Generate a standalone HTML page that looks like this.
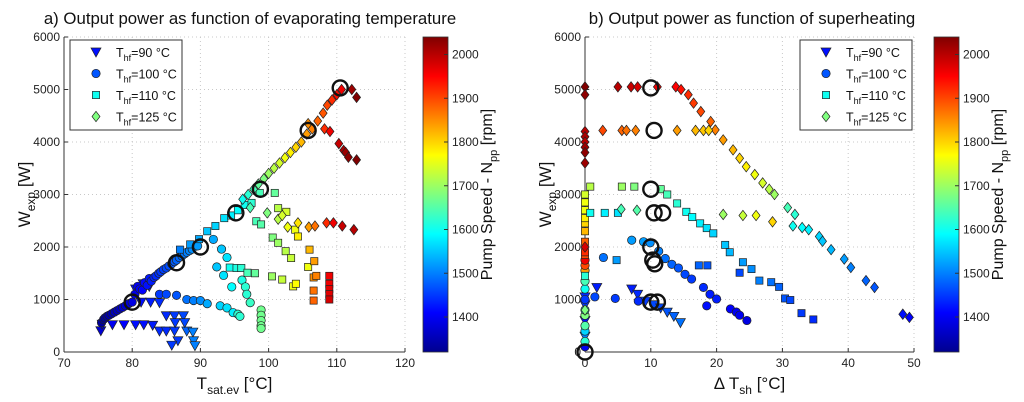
<!DOCTYPE html>
<html><head><meta charset="utf-8"><style>
html,body{margin:0;padding:0;background:#fff;}
svg{display:block;font-family:"Liberation Sans",Arial,sans-serif;}
</style></head><body>
<svg id="fig" width="1024" height="402" viewBox="0 0 1024 402" xmlns="http://www.w3.org/2000/svg">
<defs>
<linearGradient id="jet" x1="0" y1="1" x2="0" y2="0">
<stop offset="0" stop-color="#00008f"/><stop offset="0.125" stop-color="#0000ff"/><stop offset="0.375" stop-color="#00ffff"/><stop offset="0.625" stop-color="#ffff00"/><stop offset="0.875" stop-color="#ff0000"/><stop offset="1" stop-color="#800000"/>
</linearGradient>
</defs>
<g id="left"></g>
<g id="right"></g>
</svg>
<script>
// ---- data: [x, W, rpm] ----
const leftTri = [[75.4,405,1380],[75.6,530,1390],[77.1,520,1400],[78.8,520,1410],[80.5,520,1420],[81.7,520,1420],[83.0,510,1430],[84.0,400,1440],[85.0,400,1440],[86.2,400,1450],[88.0,400,1480],[88.9,380,1500],[81.3,950,1420],[82.7,950,1430],[84.0,940,1440],[85.0,690,1440],[86.2,690,1450],[87.5,690,1460],[86.3,560,1450],[87.7,560,1460],[86.7,215,1450],[89.0,215,1500],[89.2,120,1500],[85.8,130,1450],[80.5,1200,1420],[81.6,1300,1430],[82.5,1250,1430]];
const leftCirc = [[75.5,560,1340],[75.8,620,1342],[76.0,650,1345],[76.3,680,1348],[76.6,700,1350],[77.0,730,1355],[77.4,760,1360],[77.8,790,1365],[78.2,820,1370],[78.6,850,1375],[79.0,880,1380],[79.5,920,1385],[80.0,950,1390],[80.4,1100,1395],[80.8,1250,1400],[81.1,1200,1405],[81.5,1180,1410],[81.8,1320,1415],[82.2,1270,1420],[82.5,1400,1425],[82.8,1350,1430],[83.2,1420,1435],[83.5,1450,1440],[83.9,1500,1445],[84.2,1530,1450],[84.6,1570,1455],[85.0,1600,1460],[85.4,1640,1465],[85.8,1680,1470],[86.2,1720,1475],[86.5,1750,1480],[86.9,1800,1485],[87.3,1830,1490],[87.7,1870,1495],[88.0,1900,1500],[88.4,1930,1505],[88.8,1960,1510],[89.6,2020,1520],[84.0,1100,1450],[85.0,1100,1460],[86.5,1080,1470],[88.0,1000,1490],[89.0,980,1500],[90.0,980,1510],[91.0,920,1530],[92.9,880,1560],[93.9,840,1570],[94.8,750,1580],[91.9,2145,1530],[93.1,1960,1550],[93.9,1800,1570],[92.4,1620,1550],[93.4,1460,1570],[94.6,1240,1590],[96.1,1370,1610],[96.6,1240,1620],[96.8,1100,1620],[97.3,940,1630],[95.5,720,1620],[95.8,680,1620],[98.9,800,1670],[98.9,700,1670],[98.9,600,1670],[98.9,500,1670],[98.9,450,1670]];
const leftSq = [[87.0,1950,1500],[88.5,2050,1520],[89.8,2150,1530],[91.0,2300,1550],[92.2,2400,1560],[93.5,2550,1570],[94.5,2600,1580],[95.5,2700,1590],[96.5,2800,1600],[97.5,2840,1620],[98.7,3030,1640],[100.9,3030,1660],[98.2,2490,1640],[98.9,2430,1650],[100.6,2180,1680],[101.4,2080,1700],[102.5,1920,1720],[103.3,1790,1730],[105.8,1620,1760],[94.3,1608,1600],[95.3,1600,1610],[96.0,1600,1620],[96.9,1510,1640],[98.0,1500,1660],[100.5,1440,1700],[102.0,1380,1730],[103.6,1250,1760],[104.0,1300,1770],[101.4,2740,1720],[102.6,2670,1740],[103.9,2330,1760],[104.3,2200,1780],[106.0,1950,1820],[106.7,1730,1840],[106.6,1420,1850],[107.0,1450,1860],[106.6,1170,1870],[106.6,980,1880],[108.9,1450,1960],[108.9,1300,1960],[108.9,1200,1970],[108.9,1100,1970],[108.9,1000,1980]];
const leftDia = [[96.2,2910,1600],[97.0,3000,1620],[97.8,3100,1640],[98.5,3200,1660],[99.3,3300,1680],[100.0,3400,1700],[100.8,3500,1720],[101.6,3600,1740],[102.4,3700,1760],[103.2,3800,1780],[104.0,3900,1800],[104.8,4000,1820],[105.6,4150,1840],[106.4,4250,1860],[107.2,4400,1880],[108.0,4550,1890],[108.6,4700,1900],[109.3,4800,1920],[110.0,4900,1940],[110.7,5000,1960],[112.2,5000,2020],[112.9,4850,2040],[105.8,4350,1850],[108.2,4250,1920],[109.0,4200,1960],[110.3,3970,1990],[111.0,3840,2010],[111.3,3800,2020],[111.7,3710,2030],[112.9,3660,2040],[97.3,2750,1640],[99.8,2650,1680],[101.4,2530,1720],[102.0,2600,1740],[102.8,2380,1760],[104.3,2460,1790],[105.9,2380,1840],[106.8,2400,1870],[108.5,2460,1920],[109.5,2460,1960],[110.8,2400,1990],[112.5,2330,2000]];
const leftBig = [[80.0,950],[86.5,1700],[90.0,2000],[95.2,2650],[98.8,3100],[105.8,4220],[110.5,5030]];

const rightTri = [[0,300,1500],[0,600,1420],[0,900,1450],[0,1050,1440],[1.8,1230,1430],[7.1,1200,1430],[8.0,1100,1440],[9.2,970,1450],[10.5,900,1460],[11.5,840,1460],[12.5,760,1470],[13.5,680,1480],[14.5,560,1490]];
const rightCirc = [[0,100,1400],[0,200,1620],[0,400,1560],[0,500,1650],[0,700,1680],[0,800,1600],[0,1000,1450],[0,1200,1600],[0,1350,1640],[0,1550,1840],[0,1650,1900],[0,1750,1960],[7.1,2130,1520],[8.9,2100,1520],[9.9,2080,1510],[11.2,1920,1500],[12.2,1780,1490],[13.2,1670,1480],[14.2,1600,1470],[15.2,1480,1460],[16.2,1390,1450],[18.0,1230,1440],[19.0,1100,1430],[20.0,1010,1430],[2.8,1800,1490],[1.5,1050,1460],[4.6,1020,1450],[8.1,970,1440],[18.5,880,1420],[22.1,820,1410],[23.0,760,1400],[23.5,700,1400],[24.6,600,1390]];
const rightSq = [[0,1450,1620],[0,1850,1900],[0,1900,1920],[0,2100,1880],[0,2300,1820],[0,2450,1800],[0,2550,1780],[0,2700,1760],[0,2850,1760],[0,3000,1740],[0.8,3150,1720],[5.6,3150,1700],[7.5,3150,1680],[11.5,3100,1660],[12.5,3000,1640],[14.0,2830,1620],[15.4,2670,1600],[16.3,2570,1590],[17.5,2450,1580],[18.5,2360,1570],[19.5,2260,1560],[21.3,2040,1550],[22.0,1900,1540],[24.0,1710,1520],[25.3,1580,1510],[26.5,1360,1500],[28.3,1330,1490],[29.5,1240,1480],[30.4,1020,1470],[31.2,990,1460],[32.9,740,1450],[34.7,620,1440],[0.8,2650,1600],[3.0,2650,1580],[5.0,2650,1570],[4.8,1750,1520],[17.3,1650,1480],[18.6,1650,1470],[23.5,1510,1460]];
const rightDia = [[0,5050,2040],[0,4900,2030],[0,4200,2000],[0,4100,2010],[0,4000,2000],[0,3900,2020],[0,3800,2030],[0,3600,2020],[0,2000,1980],[0,800,1680],[5.0,5050,2000],[7.0,5050,1990],[8.0,5050,1980],[11.0,5050,1960],[13.8,5050,1950],[14.6,5000,1940],[15.7,4900,1920],[16.5,4740,1910],[17.6,4580,1900],[19.1,4390,1880],[19.8,4230,1860],[21.0,4040,1840],[22.5,3850,1820],[23.5,3690,1800],[24.5,3530,1780],[25.8,3380,1760],[27.0,3220,1740],[28.0,3100,1720],[28.8,3000,1700],[30.8,2750,1640],[31.9,2620,1620],[31.6,2400,1600],[33.0,2370,1590],[34.0,2330,1580],[35.6,2200,1560],[36.1,2110,1550],[37.4,1950,1540],[39.4,1770,1520],[40.4,1610,1500],[42.7,1360,1480],[44.0,1230,1470],[48.3,720,1420],[49.3,660,1410],[2.7,4220,1900],[5.6,4220,1880],[6.3,4220,1870],[7.7,4220,1860],[14.0,4220,1840],[16.8,4220,1820],[18.0,4220,1810],[18.8,4220,1800],[5.5,2720,1640],[7.9,2700,1650],[21.0,2620,1700],[24.0,2600,1730],[26.0,2600,1760],[28.5,2480,1800]];
const rightBig = [[10,5030],[10.5,4220],[10,3100],[10.5,2650],[11.8,2650],[10,2000],[10.3,1750],[10.6,1680],[10,950],[11,950],[0,0]];

const xTicksL = [70,80,90,100,110,120];
const xTicksR = [0,10,20,30,40,50];
const yTicks = [0,1000,2000,3000,4000,5000,6000];
const cbTicks = [1400,1500,1600,1700,1800,1900,2000];

const NS = "http://www.w3.org/2000/svg";
function mk(tag, attrs, parent, text){const e=document.createElementNS(NS,tag);for(const k in attrs)e.setAttribute(k,attrs[k]);if(text!==undefined)e.textContent=text;parent.appendChild(e);return e;}
function jet(rpm){let t=(rpm-1320)/720;t=Math.max(0,Math.min(1,t));
 const r=Math.max(0,Math.min(1,Math.min(4*t-1.5,-4*t+4.5))),g=Math.max(0,Math.min(1,Math.min(4*t-0.5,-4*t+3.5))),b=Math.max(0,Math.min(1,Math.min(4*t+0.5,-4*t+2.5)));
 return `rgb(${Math.round(r*255)},${Math.round(g*255)},${Math.round(b*255)})`;}
const Y0=352,Y1=37;
const yS=v=>Y0-(v/6000)*(Y0-Y1);

function marker(g,type,x,y,fill){
 let e;
 if(type==='tri') e=mk('polygon',{points:`${x-5},${y-4} ${x+5},${y-4} ${x},${y+5}`},g);
 else if(type==='circ') e=mk('circle',{cx:x,cy:y,r:4.2},g);
 else if(type==='sq') e=mk('rect',{x:x-3.6,y:y-3.6,width:7.2,height:7.2},g);
 else e=mk('polygon',{points:`${x},${y-5.2} ${x+4},${y} ${x},${y+5.2} ${x-4},${y}`},g);
 e.setAttribute('fill',fill);e.setAttribute('stroke','#222');e.setAttribute('stroke-width','0.7');
 return e;}

function panel(root,opt){
 const xS=v=>opt.x0+(v-opt.xmin)/(opt.xmax-opt.xmin)*(opt.x1-opt.x0);
 const g=root;
 opt.xt.forEach(t=>{const x=xS(t);mk('line',{x1:x,y1:Y1,x2:x,y2:Y0,stroke:'#c8c8c8','stroke-dasharray':'1,3','stroke-width':1},g);});
 yTicks.forEach(t=>{const y=yS(t);mk('line',{x1:opt.x0,y1:y,x2:opt.x1,y2:y,stroke:'#c8c8c8','stroke-dasharray':'1,3','stroke-width':1},g);});
 mk('line',{x1:opt.x0,y1:Y1,x2:opt.x0,y2:Y0,stroke:'#333','stroke-width':1},g);
 mk('line',{x1:opt.x0,y1:Y0,x2:opt.x1,y2:Y0,stroke:'#333','stroke-width':1},g);
 opt.xt.forEach(t=>{const x=xS(t);mk('line',{x1:x,y1:Y0,x2:x,y2:Y0-4,stroke:'#333'},g);
  const l=mk('text',{x:x,y:Y0+15,'font-size':12,'text-anchor':'middle',fill:'#222'},g,String(t));
  });
 yTicks.forEach(t=>{const y=yS(t);mk('line',{x1:opt.x0,y1:y,x2:opt.x0+4,y2:y,stroke:'#333'},g);
  const l=mk('text',{x:opt.x0-4,y:y+4,'font-size':12,'text-anchor':'end',fill:'#222'},g,String(t));
  });
 const pg=mk('g',{},g);
 
 [['tri',opt.tri],['circ',opt.circ],['sq',opt.sq],['dia',opt.dia]].forEach(([ty,arr])=>{
  arr.forEach(p=>{const m=marker(pg,ty,xS(p[0]),yS(p[1]),jet(p[2]));
   
   });});
 opt.big.forEach(p=>{const c=mk('circle',{cx:xS(p[0]),cy:yS(p[1]),r:7.5,fill:'none',stroke:'#111','stroke-width':2.4},pg);
  
  });
 const ti=mk('text',{x:opt.tx,y:24,'font-size':16.8,'text-anchor':'middle',fill:'#111'},g,'');
 ti.textContent=opt.title;
 
 const yl=mk('text',{transform:`translate(${opt.x0-34},${(Y0+Y1)/2}) rotate(-90)`,'font-size':17,'text-anchor':'middle',fill:'#111'},g);
 yl.innerHTML='W<tspan font-size="12" dy="5">exp</tspan><tspan dy="-5"> [W]</tspan>';
 
 const xl=mk('text',{x:(opt.x0+opt.x1)/2,y:389,'font-size':17,'text-anchor':'middle',fill:'#111'},g);
 xl.innerHTML=opt.xlabel;
 
 const lg=mk('g',{},g);
 
 mk('rect',{x:opt.lx,y:40,width:112,height:90,fill:'#fff',stroke:'#333','stroke-width':1},lg);
 [['tri',90,1420],['circ',100,1470],['sq',110,1600],['dia',125,1680]].forEach((e,i)=>{
  const y=52+i*21.5;
  marker(lg,e[0],opt.lx+26,y,jet(e[2]));
  const t=mk('text',{x:opt.lx+46,y:y+5,'font-size':12.5,fill:'#111'},lg);
  t.innerHTML=`T<tspan font-size="9" dy="4">hf</tspan><tspan dy="-4">=${e[1]} °C</tspan>`;
  });
 const cb=mk('g',{},g);
 
 mk('rect',{x:opt.cbx,y:Y1,width:25,height:Y0-Y1,fill:'url(#jet)',stroke:'#333','stroke-width':0.8},cb);
 const cS=v=>Y0-(v-1320)/720*(Y0-Y1);
 cbTicks.forEach(t=>{const y=cS(t);mk('line',{x1:opt.cbx+25,y1:y,x2:opt.cbx+21,y2:y,stroke:'#333'},cb);
  const l=mk('text',{x:opt.cbx+29,y:y+4,'font-size':12,fill:'#222'},cb,String(t));
  });
 const cl=mk('text',{transform:`translate(${opt.cbx+69},${(Y0+Y1)/2}) rotate(-90)`,'font-size':16,'text-anchor':'middle',fill:'#111'},cb);
 cl.innerHTML='Pump Speed - N<tspan font-size="11" dy="5">pp</tspan><tspan dy="-5"> [rpm]</tspan>';
 
}
panel(document.getElementById('left'),{x0:64,x1:405,xmin:70,xmax:120,xt:xTicksL,tri:leftTri,circ:leftCirc,sq:leftSq,dia:leftDia,big:leftBig,
 title:'a) Output power as function of evaporating temperature',tx:250,lx:70,cbx:423,
 xlabel:'T<tspan font-size="12" dy="5">sat.ev</tspan><tspan dy="-5"> [°C]</tspan>'});
panel(document.getElementById('right'),{x0:585,x1:914,xmin:0,xmax:50,xt:xTicksR,tri:rightTri,circ:rightCirc,sq:rightSq,dia:rightDia,big:rightBig,
 title:'b) Output power as function of superheating',tx:752,lx:800,cbx:934,
 xlabel:'Δ T<tspan font-size="12" dy="5">sh</tspan><tspan dy="-5"> [°C]</tspan>'});
</script>
</body></html>
